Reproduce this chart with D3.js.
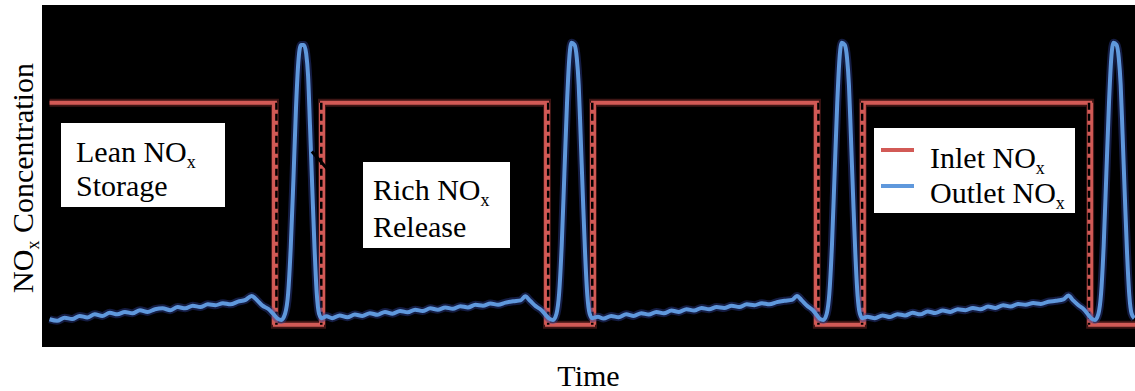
<!DOCTYPE html>
<html>
<head>
<meta charset="utf-8">
<script src="https://cdn.jsdelivr.net/npm/d3@7"></script>
<style>
  body { margin: 0; background: #fff; }
</style>
</head>
<body>
<svg width="1135" height="391" font-family="'Liberation Serif', 'Times New Roman', 'DejaVu Serif', serif"></svg>
<script>
// inlet NOx: square wave (1 = lean feed, 0 = rich purge)
const inletT = [2, 61.8, 61.8, 74.3, 74.3, 134.0, 134.0, 146.2, 146.2, 205.6, 205.6, 217.8, 217.8, 278.1, 278.1, 290];
const inletV = [1, 1, 0, 0, 1, 1, 0, 0, 1, 1, 0, 0, 1, 1, 0, 0];

// dashed markers at the lean/rich switch points
const switchTimes = [62.2, 74.1, 134.3, 146.0, 206.0, 217.6, 277.8];

// outlet NOx, one array per cycle [time, value]
const outletCycle1 = [
  [2, .025], [4, .018], [6, .032], [8, .026], [10, .04], [12, .033], [14, .048], [16, .04], [18, .054], [20, .047],
  [22, .058], [24, .052], [26, .066], [28, .058], [30, .07], [32, .074], [34, .066], [36, .08], [38, .074], [40, .086],
  [42, .08], [44, .092], [46, .088], [48, .097], [50, .092], [52, .104], [54, .112], [55.6, .13], [57, .112], [58.5, .086],
  [60, .072], [61.3, .05],
  [62.5, .028], [63.5, .022], [64.5, .05], [65.3, .14], [66, .35], [66.7, .65], [67.4, .98], [68, 1.18], [68.7, 1.26],
  [69.5, 1.26], [70.1, 1.22], [70.6, 1.12], [71.1, .9], [71.7, .62], [72.3, .35], [72.9, .14], [73.5, .05], [74.2, .03]
];
const outletCycle2 = [
  [75.5, .038], [77, .03], [79, .042], [81, .034], [83, .046], [85, .04], [87, .052], [89, .045], [91, .058], [93, .05],
  [95, .062], [97, .056], [99, .068], [101, .062], [103, .074], [105, .068], [107, .078], [109, .072], [111, .084], [113, .078],
  [115, .09], [117, .086], [119, .096], [121, .09], [123, .1], [125, .106], [127, .11], [128.2, .128], [129.5, .108], [131, .084],
  [132.5, .066], [133.6, .045],
  [134.6, .028], [135.6, .022], [136.5, .05], [137.2, .14], [137.9, .36], [138.6, .68], [139.3, 1.0], [139.9, 1.2], [140.5, 1.27],
  [141.3, 1.26], [141.9, 1.2], [142.4, 1.08], [142.9, .86], [143.5, .58], [144.1, .32], [144.7, .13], [145.3, .05], [146, .03]
];
const outletCycle3 = [
  [147.5, .036], [149, .028], [151, .04], [153, .034], [155, .047], [157, .04], [159, .052], [161, .046], [163, .058], [165, .052],
  [167, .064], [169, .058], [171, .07], [173, .064], [175, .076], [177, .07], [179, .08], [181, .076], [183, .086], [185, .08],
  [187, .092], [189, .088], [191, .097], [193, .092], [195, .102], [197, .108], [199, .112], [200.3, .13], [201.6, .11], [203, .086],
  [204.5, .066], [205.5, .045],
  [206.3, .028], [207.3, .022], [208.2, .05], [208.9, .14], [209.6, .36], [210.3, .68], [211, 1.0], [211.6, 1.2], [212.2, 1.27],
  [213, 1.26], [213.6, 1.2], [214.1, 1.08], [214.6, .86], [215.2, .58], [215.8, .32], [216.4, .13], [217, .05], [217.7, .03]
];
const outletCycle4 = [
  [219, .036], [221, .03], [223, .042], [225, .035], [227, .048], [229, .042], [231, .054], [233, .047], [235, .06], [237, .053],
  [239, .064], [241, .058], [243, .07], [245, .066], [247, .076], [249, .07], [251, .082], [253, .076], [255, .088], [257, .082],
  [259, .094], [261, .09], [263, .098], [265, .094], [267, .104], [269, .108], [271, .114], [272.3, .132], [273.6, .11], [275, .088],
  [276.5, .068], [277.6, .045],
  [278.5, .028], [279.4, .022], [280.3, .05], [281, .14], [281.7, .36], [282.4, .68], [283.1, 1.0], [283.7, 1.2], [284.3, 1.27],
  [285.1, 1.26], [285.7, 1.2], [286.2, 1.08], [286.7, .86], [287.3, .58], [287.9, .32], [288.5, .13], [289.1, .05], [289.8, .03]
];

const svg = d3.select("svg");
const plotL = 42, plotR = 1135, plotT = 5, plotB = 347;

const x = d3.scaleLinear().domain([0, 290]).range([plotL, plotR]);
const y = d3.scaleLinear().domain([-0.1, 1.44]).range([plotB, plotT]);

svg.append("rect")
  .attr("x", plotL).attr("y", plotT)
  .attr("width", plotR - plotL).attr("height", plotB - plotT)
  .style("fill", "#000");

svg.append("clipPath").attr("id", "plot")
  .append("rect")
  .attr("x", plotL).attr("y", plotT)
  .attr("width", plotR - plotL).attr("height", plotB - plotT);

const g = svg.append("g").attr("clip-path", "url(#plot)");

// inlet line
const inlet = inletT.map((t, i) => [t, inletV[i]]);
const inletLine = d3.line().x(d => x(d[0])).y(d => y(d[1]));
g.append("path").datum(inlet)
  .attr("d", inletLine)
  .style("fill", "none").style("stroke", "#7a2a28")
  .style("stroke-width", 8).style("opacity", 0.5);

// the vertical switch edges look wider in the original
const edges = inletT.filter((t, i) => i > 0 && t === inletT[i - 1]);
g.selectAll(".edge").data(edges).enter()
  .append("line")
  .attr("x1", d => x(d)).attr("x2", d => x(d))
  .attr("y1", y(1)).attr("y2", y(0))
  .style("stroke", "#cf5854").style("stroke-width", 6);

g.append("path").datum(inlet)
  .attr("d", inletLine)
  .style("fill", "none").style("stroke", "#d25a56")
  .style("stroke-width", 4);

// dashed switch markers
g.selectAll(".switch").data(switchTimes).enter()
  .append("line")
  .attr("x1", d => x(d)).attr("x2", d => x(d))
  .attr("y1", y(1)).attr("y2", y(0))
  .style("stroke", "#000").style("stroke-width", 2.5)
  .style("stroke-dasharray", "7,4");

// outlet line
const outletLine = d3.line()
  .x(d => x(d[0])).y(d => y(d[1]))
  .curve(d3.curveMonotoneX);
const outletAll = outletCycle1.concat(outletCycle2, outletCycle3, outletCycle4);
g.append("path").datum(outletAll)
  .attr("d", outletLine)
  .style("fill", "none").style("stroke", "#2c3f92")
  .style("stroke-width", 8).style("opacity", 0.45);
g.append("path").datum(outletAll)
  .attr("d", outletLine)
  .style("fill", "none").style("stroke", "#5f98dc")
  .style("stroke-width", 4);

// small black pointer near first release
g.append("line")
  .attr("x1", x(71.6)).attr("y1", y(0.78))
  .attr("x2", x(77.6)).attr("y2", y(0.665))
  .style("stroke", "#000").style("stroke-width", 3);

// text with a subscript x
function subText(sel, main, sub, rest) {
  sel.append("tspan").text(main);
  sel.append("tspan").text(sub)
    .attr("dy", 6).style("font-size", "18px");
  if (rest) sel.append("tspan").attr("dy", -6).text(rest);
  return sel;
}

svg.append("rect").attr("x", 61).attr("y", 123).attr("width", 164).attr("height", 84)
  .style("fill", "#fff");
subText(svg.append("text").attr("x", 76).attr("y", 162).style("font-size", "30px"), "Lean NO", "x");
svg.append("text").attr("x", 76).attr("y", 196).style("font-size", "30px").text("Storage");

svg.append("rect").attr("x", 363).attr("y", 162).attr("width", 147).attr("height", 86)
  .style("fill", "#fff");
subText(svg.append("text").attr("x", 373).attr("y", 200).style("font-size", "30px"), "Rich NO", "x");
svg.append("text").attr("x", 373).attr("y", 237).style("font-size", "30px").text("Release");

// legend
const legend = [
  { name: "Inlet NO", color: "#d25a56" },
  { name: "Outlet NO", color: "#5f98dc" }
];
svg.append("rect").attr("x", 874).attr("y", 128).attr("width", 201).attr("height", 85)
  .style("fill", "#fff");
legend.forEach((d, i) => {
  svg.append("line")
    .attr("x1", 881).attr("x2", 914)
    .attr("y1", 150 + i * 36).attr("y2", 150 + i * 36)
    .style("stroke", d.color).style("stroke-width", 4);
  subText(svg.append("text").attr("x", 930).attr("y", 168 + i * 35).style("font-size", "30px"), d.name, "x");
});

// axis titles
subText(svg.append("text")
  .attr("transform", "translate(33,178) rotate(-90)")
  .attr("text-anchor", "middle")
  .style("font-size", "30px"), "NO", "x", " Concentration");

svg.append("text")
  .attr("x", (plotL + plotR) / 2).attr("y", 386)
  .attr("text-anchor", "middle")
  .style("font-size", "30px")
  .text("Time");
</script>
</body>
</html>
